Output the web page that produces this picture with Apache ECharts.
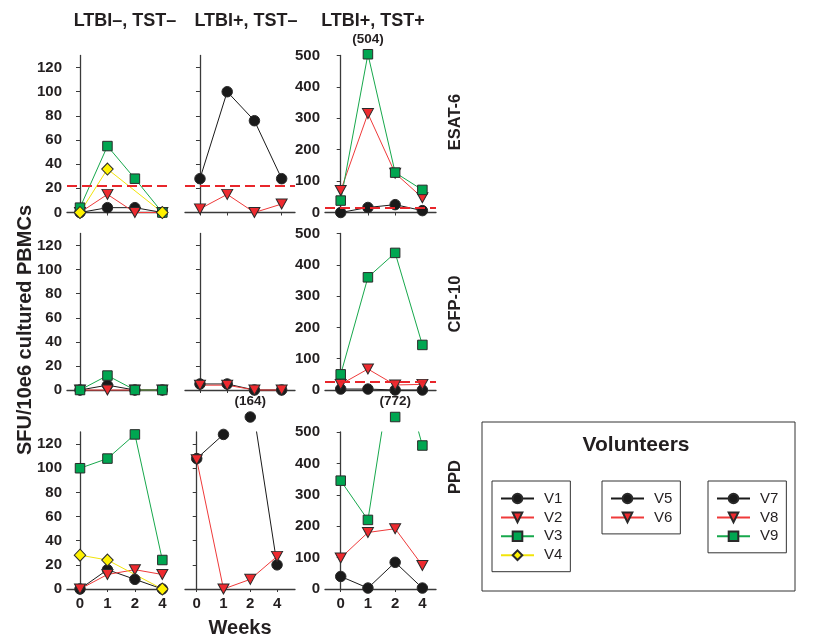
<!DOCTYPE html>
<html><head><meta charset="utf-8">
<script src="https://cdn.jsdelivr.net/npm/echarts@6/dist/echarts.min.js"></script>
<style>html,body{margin:0;padding:0;background:#fff}#c{width:837px;height:640px}</style>
</head><body><div id="c"></div><script>
// ---------- data ----------
const weeks = ['0', '1', '2', '4'];
const groups = ['LTBI–, TST–', 'LTBI+, TST–', 'LTBI+, TST+'];
const antigens = ['ESAT-6', 'CFP-10', 'PPD'];
const group1Names = ['V1', 'V2', 'V3', 'V4'];
const group2Names = ['V5', 'V6'];
const group3Names = ['V7', 'V8', 'V9'];

// ESAT-6
const esat_V1 = [0, 4, 4, 0];
const esat_V2 = [0, 15, 0, 0];
const esat_V3 = [4, 55, 28, 0];
const esat_V4 = [0, 36, null, 0];
const esat_V5 = [28, 100, 76, 28];
const esat_V6 = [3, 15, 0, 7];
const esat_V7 = [0, 16, 25, 6];
const esat_V8 = [70, 315, 125, 47];
const esat_V9 = [38, 504, 127, 72];
// CFP-10
const cfp_V1 = [0, 4, 0, 0];
const cfp_V2 = [0, 0, 0, 0];
const cfp_V3 = [0, 12, 0, 0];
const cfp_V4 = [null, null, null, null];
const cfp_V5 = [5, 5, 0, 0];
const cfp_V6 = [4, 4, 0, 0];
const cfp_V7 = [3, 3, 0, 0];
const cfp_V8 = [18, 67, 16, 18];
const cfp_V9 = [50, 360, 438, 144];
// PPD
const ppd_V1 = [0, 16, 8, 0];
const ppd_V2 = [0, 12, 16, 12];
const ppd_V3 = [100, 108, 128, 24];
const ppd_V4 = [28, 24, null, 0];
const ppd_V5 = [108, 128, 164, 20];
const ppd_V6 = [107, 0, 8, 27];
const ppd_V7 = [40, 3, 85, 3];
const ppd_V8 = [99, 180, 192, 75];
const ppd_V9 = [345, 220, 772, 457];

// positivity cut-offs (dashed lines) per group
const cutoffs_esat = [22, 22, 16];
const cutoffs_cfp = [null, null, 25];
const cutoffs_ppd = [null, null, null];

const yMaxByGroup = [130, 130, 500];
const yTicksLeft = [0, 20, 40, 60, 80, 100, 120];
const yTicksRight = [0, 100, 200, 300, 400, 500];

// ---------- assembly ----------
const panelData = [
  [[esat_V1, esat_V2, esat_V3, esat_V4], [esat_V5, esat_V6], [esat_V7, esat_V8, esat_V9]],
  [[cfp_V1, cfp_V2, cfp_V3, cfp_V4], [cfp_V5, cfp_V6], [cfp_V7, cfp_V8, cfp_V9]],
  [[ppd_V1, ppd_V2, ppd_V3, ppd_V4], [ppd_V5, ppd_V6], [ppd_V7, ppd_V8, ppd_V9]]
];
const panelCutoffs = [cutoffs_esat, cutoffs_cfp, cutoffs_ppd];
const groupNames = [group1Names, group2Names, group3Names];

const FONT = '"Liberation Sans", Arial, Helvetica, sans-serif';
const TXT = '#231f20';
const AXIS = '#3a3a3a';

const markerStyles = [
  { symbol: 'circle', size: 10.5, rotate: 0, fill: '#1a1a1a', line: '#1a1a1a' },
  { symbol: 'triangle', size: [11, 10], rotate: 180, fill: '#ee2a2f', line: '#ef3a3a' },
  { symbol: 'rect', size: 9.5, rotate: 0, fill: '#00a651', line: '#17a84c' },
  { symbol: 'diamond', size: [11.5, 12], rotate: 0, fill: '#fff200', line: '#f2e40a' }
];

// layout
const colLeft = [67, 185, 325];
const colWidth = [100, 110, 111];
const rowTop = [55.5, 233.5, 432];
const rowHeight = [157, 156.5, 157];
const xRange = [
  [[-0.474, 3.17], [-0.55, 3.49], [-0.577, 3.50]],
  [[-0.474, 3.17], [-0.55, 3.49], [-0.577, 3.50]],
  [[-0.474, 3.17], [-0.437, 3.67], [-0.577, 3.50]]
];

const grids = [], xAxes = [], yAxes = [], series = [];
for (let r = 0; r < 3; r++) {
  for (let c = 0; c < 3; c++) {
    const gi = r * 3 + c;
    const yMax = yMaxByGroup[c];
    const yTicks = c === 2 ? yTicksRight : yTicksLeft;
    grids.push({ left: colLeft[c], top: rowTop[r], width: colWidth[c], height: rowHeight[r] });
    xAxes.push({
      gridIndex: gi, type: 'value', min: xRange[r][c][0], max: xRange[r][c][1],
      axisLine: { show: true, onZero: false, lineStyle: { color: AXIS, width: 1.3 } },
      axisTick: { show: true, customValues: [0, 1, 2, 3], length: 3, lineStyle: { color: AXIS, width: 1 } },
      axisLabel: { show: r === 2, customValues: [0, 1, 2, 3], formatter: v => weeks[Math.round(v)],
        fontSize: 15, fontWeight: 'bold', color: TXT, fontFamily: FONT, margin: 7 },
      splitLine: { show: false }
    });
    yAxes.push({
      gridIndex: gi, type: 'value', min: 0, max: yMax,
      axisLine: { show: true, lineStyle: { color: AXIS, width: 1.3 } },
      axisTick: { show: true, customValues: yTicks, length: 4, lineStyle: { color: AXIS, width: 1 } },
      axisLabel: { show: c !== 1, customValues: yTicks, fontSize: 15, fontWeight: 'bold', color: TXT,
        fontFamily: FONT, margin: 5 },
      splitLine: { show: false }
    });
    const capVal = yMax + 15 * yMax / rowHeight[r];
    const vols = panelData[r][c];
    vols.forEach((vals, k) => {
      const st = markerStyles[k];
      const name = groupNames[c][k];
      const hasOff = vals.some(v => v != null && v > yMax);
      const clip = vals.some(v => v != null && v > capVal);
      const data = vals.map((v, i) => {
        if (v != null && v > yMax) return { value: [i, v], symbol: 'none' };
        return { value: [i, v] };
      });
      const s = {
        name, type: 'line', xAxisIndex: gi, yAxisIndex: gi, data, connectNulls: true, clip,
        symbol: st.symbol, symbolSize: st.size, symbolRotate: st.rotate,
        lineStyle: { color: st.line, width: 1 },
        itemStyle: { color: st.fill, borderColor: '#2a2a2a', borderWidth: 1, opacity: 1 },
        emphasis: { disabled: true }, z: 2
      };
      if (k === 0 && panelCutoffs[r][c] != null) {
        s.markLine = {
          silent: true, symbol: ['none', 'none'], label: { show: false },
          lineStyle: { color: '#e8262b', type: [10, 5], width: 2 },
          data: [{ yAxis: panelCutoffs[r][c] }], animation: false
        };
      }
      series.push(s);
      if (hasOff) {
        const offData = [];
        vals.forEach((v, i) => {
          if (v != null && v > yMax) offData.push({ value: [i, Math.min(v, capVal)], real: v });
        });
        series.push({
          type: 'scatter', xAxisIndex: gi, yAxisIndex: gi, clip: false, z: 4,
          symbol: st.symbol, symbolSize: st.size, symbolRotate: st.rotate,
          itemStyle: { color: st.fill, borderColor: '#2a2a2a', borderWidth: 1, opacity: 1 },
          emphasis: { disabled: true },
          data: offData.map(d => ({ value: d.value, label: { formatter: '(' + d.real + ')' } })),
          label: { show: true, position: 'top', distance: 3, fontSize: 13.5, fontWeight: 'bold',
            color: TXT, fontFamily: FONT }
        });
      }
    });
  }
}

const legendBase = {
  orient: 'vertical', top: 481, padding: [10, 8, 9, 8], itemWidth: 33, itemHeight: 12, itemGap: 3.9,
  borderColor: '#333', borderWidth: 1, selectedMode: false,
  textStyle: { fontSize: 15, color: TXT, fontFamily: FONT, padding: [0, 0, 0, 5] }
};
const legends = [
  Object.assign({}, legendBase, { left: 492, data: group1Names }),
  Object.assign({}, legendBase, { left: 602, data: group2Names }),
  Object.assign({}, legendBase, { left: 708, data: group3Names })
];

const textEl = (text, x, y, size, rot) => ({
  type: 'text', x, y, rotation: rot || 0, silent: true,
  style: { text, fontSize: size, fontWeight: 'bold', fontFamily: FONT, fill: TXT,
    textAlign: 'center', textVerticalAlign: 'middle' }
});

const graphics = [
  textEl(groups[0], 125, 21, 18),
  textEl(groups[1], 246, 21, 18),
  textEl(groups[2], 373, 21, 18),
  textEl(antigens[0], 455, 122, 16.5, Math.PI / 2),
  textEl(antigens[1], 455, 304, 16.5, Math.PI / 2),
  textEl(antigens[2], 455, 477, 16.5, Math.PI / 2),
  textEl('SFU/10e6 cultured PBMCs', 25, 330, 20, Math.PI / 2),
  textEl('Weeks', 240, 628, 20),
  { type: 'rect', silent: true, shape: { x: 482, y: 422, width: 313, height: 169 },
    style: { fill: 'none', stroke: '#333', lineWidth: 1 } },
  textEl('Volunteers', 636, 445, 21)
];

const chart = echarts.init(document.getElementById('c'), null, { renderer: 'canvas' });
chart.setOption({
  backgroundColor: '#fff', animation: false,
  grid: grids, xAxis: xAxes, yAxis: yAxes, series, legend: legends, graphic: graphics
});
</script></body></html>
